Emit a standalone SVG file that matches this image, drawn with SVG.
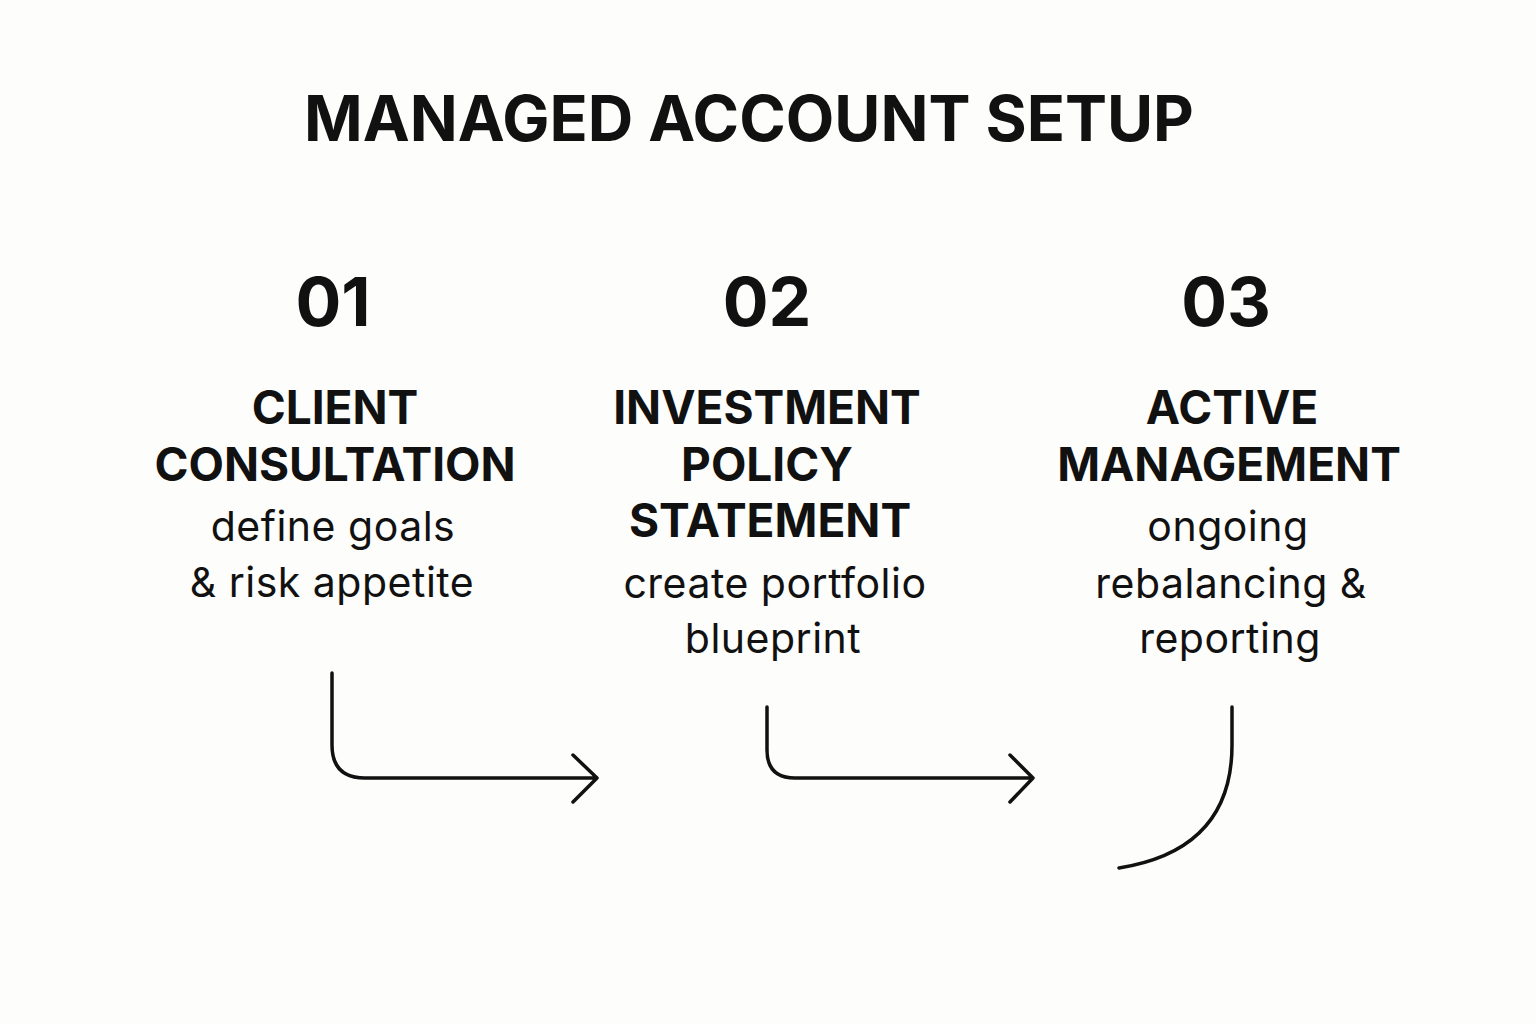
<svg xmlns="http://www.w3.org/2000/svg" width="1536" height="1024" viewBox="0 0 1536 1024">
<style>
.t{font-family:Inter,"Liberation Sans",sans-serif;fill:#111;text-anchor:middle}
.ti{font-size:63px;font-weight:700}
.n{font-size:68px;font-weight:700}
.h{font-size:46px;font-weight:700}
.d{font-size:41px;font-weight:400;letter-spacing:0.5px}
.c{fill:none;stroke:#111;stroke-width:3.5;stroke-linecap:round;stroke-linejoin:round}
</style>
<rect width="1536" height="1024" fill="#fdfdfb"/>
<text class="t ti" x="749" y="141">MANAGED ACCOUNT SETUP</text>
<g id="step1">
<text class="t n" x="333" y="326">01</text>
<text class="t h" x="335" y="424">CLIENT</text>
<text class="t h" x="335" y="481">CONSULTATION</text>
<text class="t d" x="333" y="541">define goals</text>
<text class="t d" x="332" y="597">&amp; risk appetite</text>
</g>
<g id="step2">
<text class="t n" x="767" y="326">02</text>
<text class="t h" x="767" y="424">INVESTMENT</text>
<text class="t h" x="767" y="481">POLICY</text>
<text class="t h" x="770" y="537">STATEMENT</text>
<text class="t d" x="775" y="598">create portfolio</text>
<text class="t d" x="773" y="653">blueprint</text>
</g>
<g id="step3">
<text class="t n" x="1226" y="326">03</text>
<text class="t h" x="1232" y="424">ACTIVE</text>
<text class="t h" x="1229" y="481">MANAGEMENT</text>
<text class="t d" x="1228" y="541">ongoing</text>
<text class="t d" x="1231" y="598">rebalancing &amp;</text>
<text class="t d" x="1230" y="653">reporting</text>
</g>
<g id="connectors">
<path class="c" d="M332 673 V745 Q332 778 365 778 H597 M573 755 L597 778 L573 802"/>
<path class="c" d="M767 707 V750 Q767 778 795 778 H1033 M1010 755 L1033 778 L1010 802"/>
<path class="c" d="M1232 707 V745 Q1232 850 1119 868"/>
</g>
</svg>
